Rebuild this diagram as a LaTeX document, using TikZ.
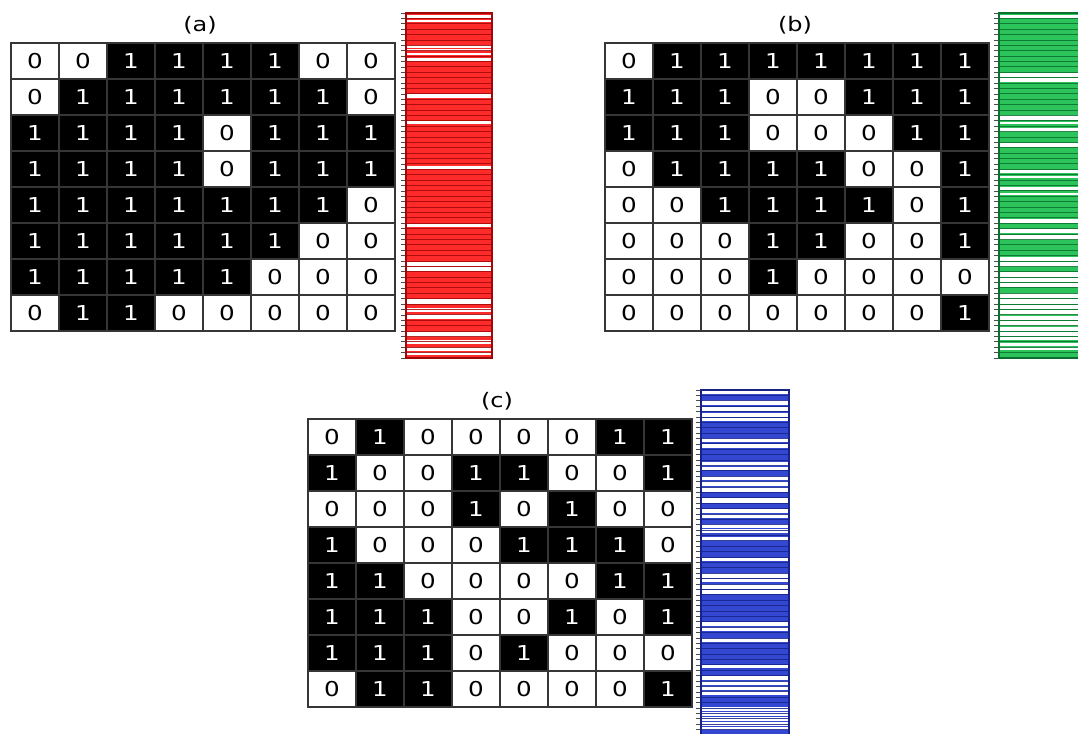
\documentclass[tikz,border=0pt]{standalone}
\usepackage{graphicx}
\usepackage{fontspec}
\setmainfont{DejaVu Sans}
\definecolor{gridgray}{HTML}{363636}
\definecolor{redfill}{HTML}{FF2A2A}
\definecolor{redline}{HTML}{A00808}
\definecolor{greenfill}{HTML}{2CC45A}
\definecolor{greenline}{HTML}{0A7030}
\definecolor{bluefill}{HTML}{3447D0}
\definecolor{blueline}{HTML}{16238A}
\newcommand\wtxt[1]{\scalebox{1.2}[1]{#1}}
\tikzset{
  cellbase/.style={draw=gridgray, line width=1.8pt, minimum width=48pt, minimum height=36pt,
    inner sep=0pt, anchor=north west, font=\fontsize{20.5}{20.5}\selectfont},
  c1/.style={cellbase, fill=black, text=white},
  c0/.style={cellbase, fill=white, text=black},
  lab/.style={font=\fontsize{20}{20}\selectfont, inner sep=0pt}
}
\newcommand\drawgrid[4]{%
  \foreach \row [count=\r from 0] in {#4} {
    \foreach \v [count=\c from 0] in \row {
      \node[c\v] (#1-\r-\c) at ({#2+48*\c},{#3+36*\r}) {\wtxt{\v}};
    }
  }
}
% x0,x1,y0,y1,fill,line,white intervals
\newcommand\drawbar[7]{%
  \fill[#5] (#1,#3) rectangle (#2,#4);
  \foreach \a/\b in {#7} {\fill[white] (#1,\a) rectangle (#2,\b);}
  \foreach \i in {1,...,63} {\pgfmathsetmacro\yy{#3+(\i/64)*(#4-#3)}
    \draw[#6, line width=0.9pt, opacity=0.85] (#1,\yy) -- (#2,\yy);}
  \foreach \i in {0,...,64} {\pgfmathsetmacro\yy{#3+(\i/64)*(#4-#3)}
    \draw[black!70, line width=0.7pt] ({#1-5},\yy) -- ({#1+1},\yy);}
  \draw[#6, line width=2.8pt] (#1,#3) rectangle (#2,#4);
}
\begin{document}
\begin{tikzpicture}[x=1pt,y=-1pt]
\useasboundingbox (0,0) rectangle (1078,733);
\clip (0,0) rectangle (1078,733);

% (a)
\node[lab] (la) at (200,25) {\wtxt{(a)}};
\drawgrid{a}{10}{42}{{0,0,1,1,1,1,0,0},{0,1,1,1,1,1,1,0},{1,1,1,1,0,1,1,1},{1,1,1,1,0,1,1,1},{1,1,1,1,1,1,1,0},{1,1,1,1,1,1,0,0},{1,1,1,1,1,0,0,0},{0,1,1,0,0,0,0,0}}
\drawbar{406}{492}{13}{358}{redfill}{redline}{15/18,20/22,45/48,49/51,53/55,58/61,94/98,121/124,166/169,224/227,262/266,267/271,299/304,308/312,314/319,332/337,340/344,347/351,352/355}

% (b)
\node[lab] (lb) at (795,25) {\wtxt{(b)}};
\drawgrid{b}{604}{42}{{0,1,1,1,1,1,1,1},{1,1,1,0,0,1,1,1},{1,1,1,0,0,0,1,1},{0,1,1,1,1,0,0,1},{0,0,1,1,1,1,0,1},{0,0,0,1,1,0,0,1},{0,0,0,1,0,0,0,0},{0,0,0,0,0,0,0,1}}
\drawbar{999}{1090}{13}{358}{greenfill}{greenline}{15/18,73/77,78/82,115/120,122/124,128/132,143/147,170/173,176/178,187/190,193/195,219/223,229/233,235/240,257/261,262/267,272/277,278/282,283/287,293/298,299/304,305/309,310/315,316/320,321/326,327/331,332/336,337/340,343/346,347/350}

% (c)
\node[lab] (lc) at (497,401) {\wtxt{(c)}};
\drawgrid{c}{307}{418}{{0,1,0,0,0,0,1,1},{1,0,0,1,1,0,0,1},{0,0,0,1,0,1,0,0},{1,0,0,0,1,1,1,0},{1,1,0,0,0,0,1,1},{1,1,1,0,0,1,0,1},{1,1,1,0,1,0,0,0},{0,1,1,0,0,0,0,1}}
\drawbar{701}{789}{390}{735}{bluefill}{blueline}{390/394,400/405,407/411,413/417,418/421,438/442,444/448,462/466,467/470,476/480,481/486,487/492,498/503,509/513,514/518,524/528,529/533,537/541,558/561,573/578,579/582,584/589,590/594,622/626,627/631,638/642,665/668,676/680,681/685,686/690,691/695,707/711,712/716,717/721,722/726,727/730}
\end{tikzpicture}
\end{document}
